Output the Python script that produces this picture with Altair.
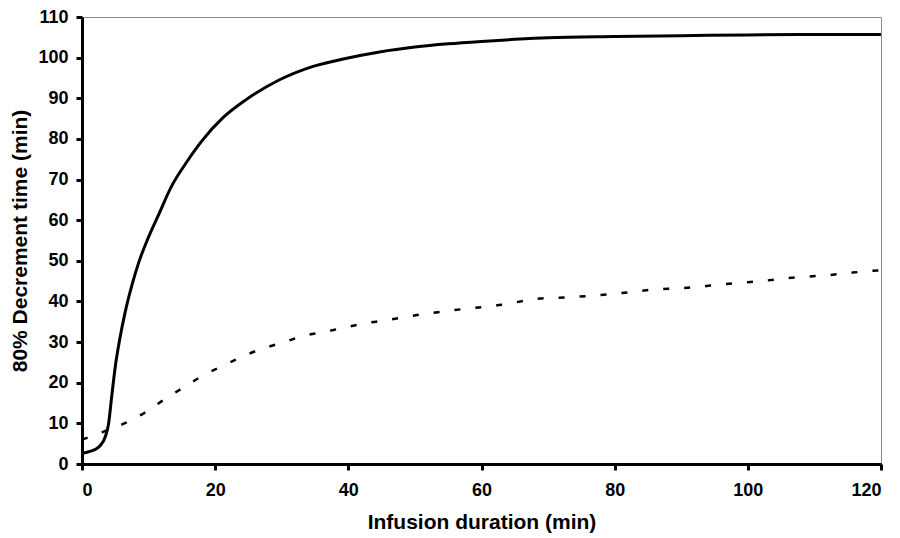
import altair as alt
import pandas as pd

# Solid curve (upper)
solid_x = [0, 1, 2, 2.6, 3.5, 4, 4.4, 5, 5.7, 6.5, 7.5, 8.5, 9.8, 11.6, 13.4, 15.6, 18.1,
           21.1, 24.6, 29.6, 34.6, 39.6, 44.7, 50, 55, 60, 65, 70, 80, 90, 100, 110, 120]
solid_y = [2.6, 3.0, 3.6, 4.3, 6.7, 10, 15.7, 24, 31, 37.5, 44, 49.5, 55.1, 61.7, 68.2, 74, 79.7,
           85.1, 89.6, 94.5, 97.8, 99.8, 101.4, 102.6, 103.4, 104.0, 104.5, 104.9, 105.2, 105.4, 105.6, 105.7, 105.7]

# Dashed curve (lower)
dash_x = [0, 2.8, 6.1, 9.3, 12.1, 15, 17.9, 20.8, 23.9, 26.9, 30, 33.2, 36.7, 40, 43.2, 46.5, 49.7, 55,
          62.6, 69.4, 72.9, 76.4, 79.4, 82.9, 86.2, 89.4, 92.7, 95.9, 98.9, 102.5, 105.7, 109, 112.2, 115.7, 120]
dash_y = [6, 7.7, 9.8, 12.5, 15.6, 18.6, 21.5, 23.9, 26.3, 28.3, 29.8, 31.5, 32.6, 33.8, 34.8, 35.6, 36.5, 37.7,
          39.1, 40.8, 41.0, 41.4, 41.8, 42.4, 43.0, 43.2, 43.6, 44.2, 44.6, 45.1, 45.7, 46.1, 46.5, 47.1, 47.7]

x_ticks = [0, 20, 40, 60, 80, 100, 120]
y_ticks = list(range(0, 111, 10))

solid_df = pd.DataFrame({"x": solid_x, "y": solid_y})
dash_df = pd.DataFrame({"x": dash_x, "y": dash_y})

FONT = "Liberation Sans"

x_enc = alt.X("x:Q", scale=alt.Scale(domain=[0, 120], nice=False),
              axis=alt.Axis(values=x_ticks, title="Infusion duration (min)", grid=False,
                            labelFontSize=18, titleFontSize=21, labelPadding=11, titlePadding=12))
y_enc = alt.Y("y:Q", scale=alt.Scale(domain=[0, 110], nice=False),
              axis=alt.Axis(values=y_ticks, title="80% Decrement time (min)", grid=False,
                            labelFontSize=18, titleFontSize=21, labelPadding=8, titlePadding=7))

solid = alt.Chart(solid_df).mark_line(color="black", strokeWidth=3, interpolate="monotone").encode(
    x=x_enc, y=y_enc)
dashed = alt.Chart(dash_df).mark_line(color="black", strokeWidth=2.5, strokeDash=[6, 15],
                                      interpolate="monotone").encode(x=x_enc, y=y_enc)

chart = alt.layer(dashed, solid).properties(
    width=799, height=447,
    autosize=alt.AutoSizeParams(type="none"),
    padding={"left": 82, "top": 17, "right": 19, "bottom": 74},
).configure(font=FONT, background="white").configure_view(
    stroke="#8a8a8a", strokeWidth=1
).configure_axis(
    domainColor="black", domainWidth=3, tickColor="black", tickWidth=3, tickSize=6,
    labelColor="black", titleColor="black", labelFont=FONT, titleFont=FONT,
    labelFontWeight="bold", titleFontWeight="bold"
)

chart.save("out.html", embed_options={"renderer": "svg", "actions": False})
